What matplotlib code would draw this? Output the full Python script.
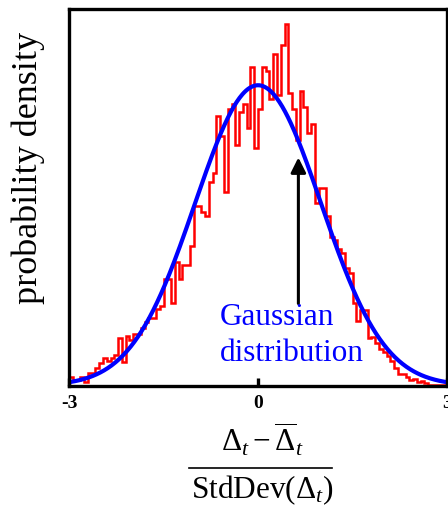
import numpy as np
import matplotlib
matplotlib.use("Agg")
import matplotlib.pyplot as plt

plt.rcParams["font.family"] = ["Liberation Serif", "DejaVu Serif"]
plt.rcParams["mathtext.fontset"] = "custom"
plt.rcParams["mathtext.rm"] = "Liberation Serif"
plt.rcParams["mathtext.it"] = "Liberation Serif:italic"
plt.rcParams["mathtext.bf"] = "Liberation Serif:bold"

# Normalised deviations: histogram of 100 bins on [-3, 3]
bin_edges = np.linspace(-3, 3, 101)
density = [
    0.011, 0.007, 0.007, 0.012, 0.005, 0.017, 0.017, 0.024, 0.030, 0.037,
    0.032, 0.037, 0.040, 0.063, 0.031, 0.066, 0.060, 0.069, 0.069, 0.076,
    0.084, 0.090, 0.090, 0.102, 0.106, 0.142, 0.142, 0.110, 0.164, 0.141,
    0.160, 0.160, 0.186, 0.239, 0.239, 0.231, 0.225, 0.270, 0.282, 0.358,
    0.332, 0.257, 0.368, 0.374, 0.320, 0.363, 0.374, 0.342, 0.423, 0.315,
    0.367, 0.423, 0.418, 0.380, 0.441, 0.386, 0.453, 0.480, 0.388, 0.368,
    0.326, 0.391, 0.370, 0.336, 0.348, 0.242, 0.262, 0.263, 0.225, 0.198,
    0.193, 0.182, 0.176, 0.156, 0.150, 0.110, 0.086, 0.101, 0.100, 0.063,
    0.064, 0.057, 0.049, 0.044, 0.039, 0.032, 0.024, 0.016, 0.015, 0.011,
    0.007, 0.009, 0.005, 0.006, 0.003, 0.001, 0.001, 0.001, 0.001, 0.001,
]
x_ticks = [-3, 0, 3]
x_tick_labels = ["-3", "0", "3"]

# Standard normal reference curve
xs = np.linspace(-3, 3, 400)
gauss = np.exp(-xs ** 2 / 2) / np.sqrt(2 * np.pi)

fig = plt.figure(figsize=(4.48, 5.08), dpi=100)
ax = fig.add_axes([0.154, 0.241, 0.844, 0.741])

ax.stairs(density, bin_edges, color="#ff0000", linewidth=1.8, baseline=0)
ax.plot(xs, gauss, color="#0000ff", linewidth=3.0, solid_capstyle="round")

ax.annotate("", xy=(0.64, 0.303), xytext=(0.64, 0.109),
            arrowprops=dict(arrowstyle="-|>,head_length=0.9,head_width=0.45",
                            color="black", lw=2.2, shrinkA=0, shrinkB=0))
ax.text(-0.61, 0.081, "Gaussian", color="#0000ff", fontsize=22.5,
        ha="left", va="baseline")
ax.text(-0.61, 0.033, "distribution", color="#0000ff", fontsize=22.5,
        ha="left", va="baseline")

ax.set_xlim(-3, 3)
ax.set_ylim(0, 0.5)
ax.set_xticks(x_ticks)
ax.set_xticklabels(x_tick_labels, fontsize=14, fontweight="bold")
ax.set_yticks([])
ax.tick_params(axis="x", direction="in", length=6, width=2.4, pad=7)
for sp in ax.spines.values():
    sp.set_linewidth(2.4)

ax.set_ylabel("probability density", fontsize=26)
ax.yaxis.set_label_coords(-0.063, 0.578)

# Axis label written as a fraction
fig.text(0.585, 1 - 452 / 508, r"$\Delta_t - \overline{\Delta}_t$",
         fontsize=22.5, ha="center", va="baseline")
fig.add_artist(plt.Line2D([189 / 448, 332 / 448], [1 - 467.5 / 508] * 2,
                          color="black", linewidth=1.2,
                          transform=fig.transFigure))
fig.text(0.585, 1 - 498 / 508, r"StdDev($\Delta_t$)",
         fontsize=22.5, ha="center", va="baseline")

fig.savefig("out.png", dpi=100)
